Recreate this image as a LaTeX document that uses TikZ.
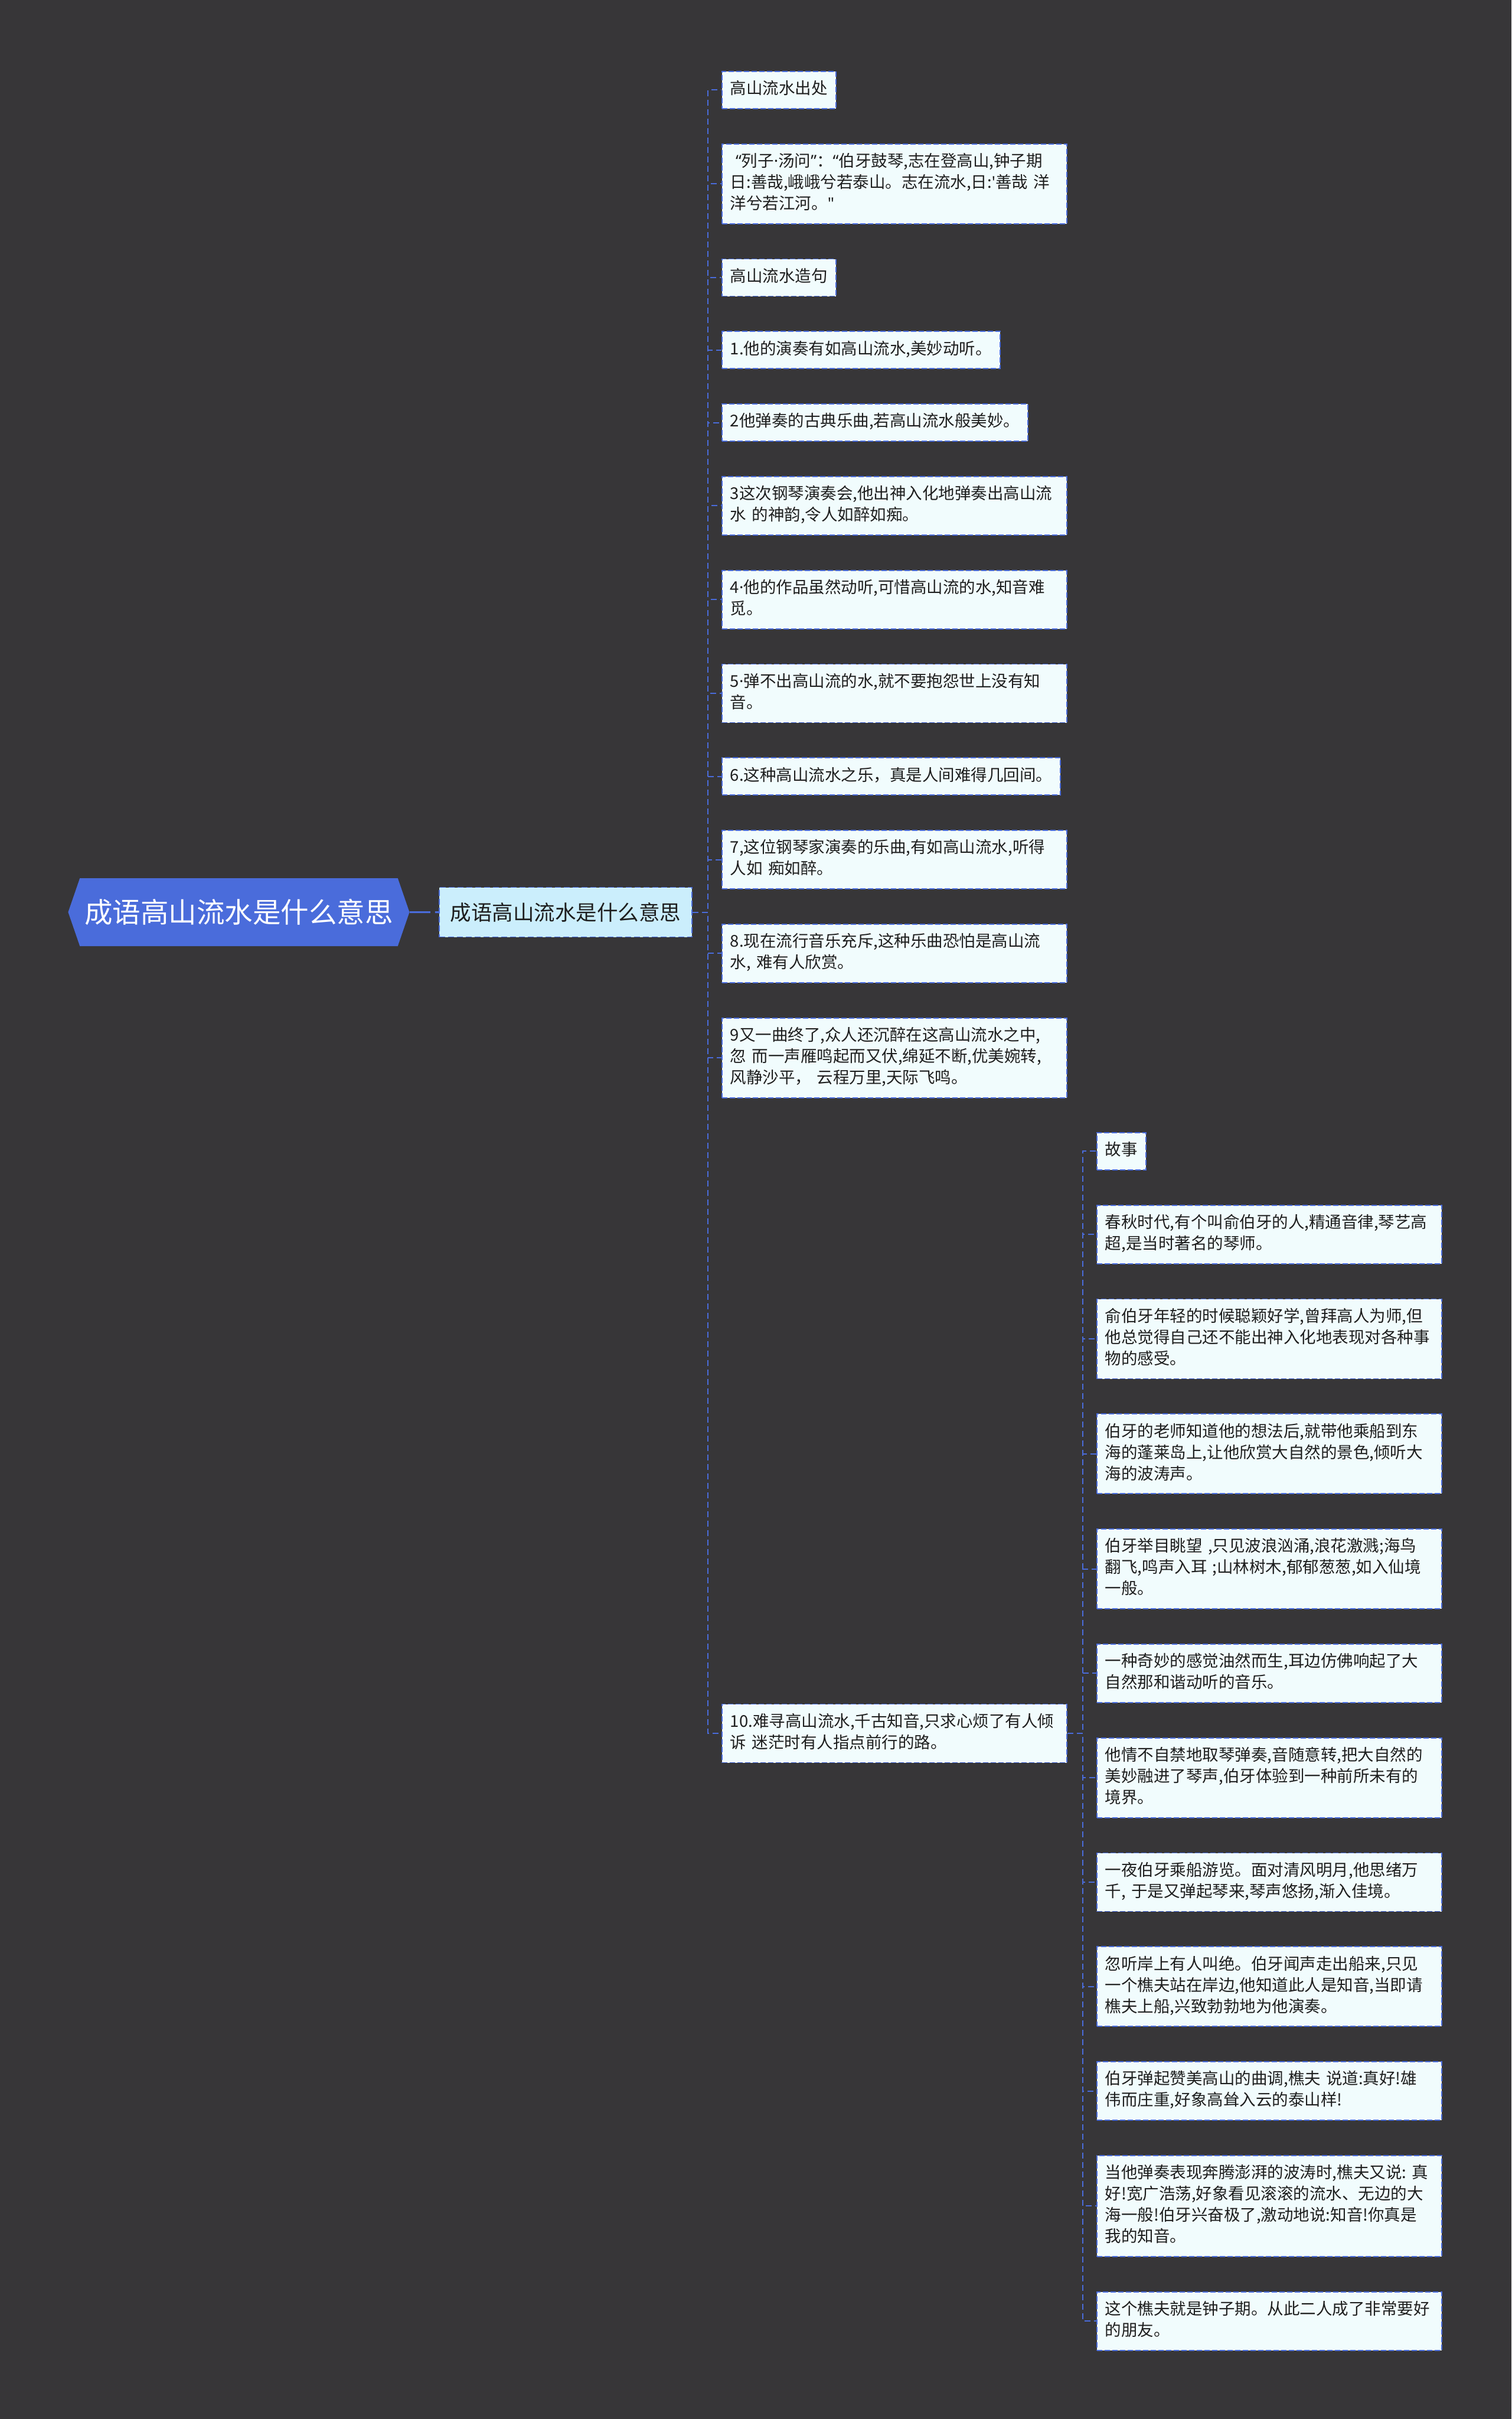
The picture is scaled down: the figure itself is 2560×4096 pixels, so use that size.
\documentclass[tikz,border=0pt]{standalone}
\usepackage{fontspec}
\setmainfont{Noto Sans CJK SC}
\newfontfamily\latfont{Noto Sans}
\usepackage{tikz}
\usetikzlibrary{positioning, shapes.symbols}
\setlength{\parindent}{0pt}
\definecolor{mapbg}{HTML}{373638}
\definecolor{mapblue}{HTML}{4A6CDB}
\definecolor{idealight}{HTML}{CBEEFC}
\definecolor{leaffill}{HTML}{F1FCFD}
\definecolor{leafink}{HTML}{1E1E1E}
\newcommand{\lat}[1]{{\latfont #1}}

\tikzset{
  leaf/.style={draw=mapblue, line width=1.8pt, dash pattern=on 9pt off 4pt, fill=leaffill, text=leafink,
    align=left, inner xsep=14pt, inner ysep=13.5pt, font=\fontsize{27.5}{36}\selectfont,
    execute at begin node=\strut, execute at end node=\strut},
  wide/.style={text width=556pt},
  link/.style={draw=mapblue, line width=2pt, dash pattern=on 10pt off 6pt},
}

\begin{document}
\begin{tikzpicture}[x=1pt, y=-1pt]
  \fill[mapbg] (0,0) rectangle (2560,4096);

  \node[signal, signal to=west and east, signal pointer angle=142, fill=mapblue, text=white,
    font=\fontsize{47.5}{50}\selectfont, minimum height=115pt, inner xsep=8pt] (root) at (404.5,1544.5) {成语高山流水是什么意思};
  \node[draw=mapblue, line width=1.8pt, dash pattern=on 10pt off 5pt, fill=idealight, text=leafink,
    font=\fontsize{35.5}{40}\selectfont, minimum height=84pt, inner xsep=19pt, right=49pt of root] (idea) {成语高山流水是什么意思};

  % meaning and sentences
  \node[leaf, anchor=north west] (c1) at (1222,120) {高山流水出处};
  \node[leaf, wide, below=58pt of c1.south west, anchor=north west] (c2) {\lat{\ “}列子\lat{·}汤问\lat{”}：\lat{“}伯牙鼓琴,志在登高山,钟子期\\日:善哉,峨峨兮若泰山。志在流水,日:\lat{'}善哉~洋\\洋兮若江河。\lat{"}};
  \node[leaf, below=58pt of c2.south west, anchor=north west] (c3) {高山流水造句};
  \node[leaf, below=58pt of c3.south west, anchor=north west] (c4) {1.他的演奏有如高山流水,美妙动听。};
  \node[leaf, below=58pt of c4.south west, anchor=north west] (c5) {2他弹奏的古典乐曲,若高山流水般美妙。};
  \node[leaf, wide, below=58pt of c5.south west, anchor=north west] (c6) {3这次钢琴演奏会,他出神入化地弹奏出高山流\\水 的神韵,令人如醉如痴。};
  \node[leaf, wide, below=58pt of c6.south west, anchor=north west] (c7) {4\lat{·}他的作品虽然动听,可惜高山流的水,知音难\\觅。};
  \node[leaf, wide, below=58pt of c7.south west, anchor=north west] (c8) {5\lat{·}弹不出高山流的水,就不要抱怨世上没有知\\音。};
  \node[leaf, below=58pt of c8.south west, anchor=north west] (c9) {6.这种高山流水之乐，真是人间难得几回间。};
  \node[leaf, wide, below=58pt of c9.south west, anchor=north west] (c10) {7,这位钢琴家演奏的乐曲,有如高山流水,听得\\人如 痴如醉。};
  \node[leaf, wide, below=58pt of c10.south west, anchor=north west] (c11) {8.现在流行音乐充斥,这种乐曲恐怕是高山流\\水, 难有人欣赏。};
  \node[leaf, wide, below=58pt of c11.south west, anchor=north west] (c12) {9又一曲终了,众人还沉醉在这高山流水之中,\\忽 而一声雁鸣起而又伏,绵延不断,优美婉转,\\风静沙平， 云程万里,天际飞鸣。};
  \node[leaf, wide, anchor=west] (c13) at (1222,2935) {10.难寻高山流水,千古知音,只求心烦了有人倾\\诉 迷茫时有人指点前行的路。};

  % the story
  \node[leaf, anchor=north west] (g0) at (1857,1917) {故事};
  \node[leaf, wide, below=58pt of g0.south west, anchor=north west] (g1) {春秋时代,有个叫俞伯牙的人,精通音律,琴艺高\\超,是当时著名的琴师。};
  \node[leaf, wide, below=58pt of g1.south west, anchor=north west] (g2) {俞伯牙年轻的时候聪颖好学,曾拜高人为师,但\\他总觉得自己还不能出神入化地表现对各种事\\物的感受。};
  \node[leaf, wide, below=58pt of g2.south west, anchor=north west] (g3) {伯牙的老师知道他的想法后,就带他乘船到东\\海的蓬莱岛上,让他欣赏大自然的景色,倾听大\\海的波涛声。};
  \node[leaf, wide, below=58pt of g3.south west, anchor=north west] (g4) {伯牙举目眺望 ,只见波浪汹涌,浪花激溅;海鸟\\翻飞,鸣声入耳 ;山林树木,郁郁葱葱,如入仙境\\一般。};
  \node[leaf, wide, below=58pt of g4.south west, anchor=north west] (g5) {一种奇妙的感觉油然而生,耳边仿佛响起了大\\自然那和谐动听的音乐。};
  \node[leaf, wide, below=58pt of g5.south west, anchor=north west] (g6) {他情不自禁地取琴弹奏,音随意转,把大自然的\\美妙融进了琴声,伯牙体验到一种前所未有的\\境界。};
  \node[leaf, wide, below=58pt of g6.south west, anchor=north west] (g7) {一夜伯牙乘船游览。面对清风明月,他思绪万\\千, 于是又弹起琴来,琴声悠扬,渐入佳境。};
  \node[leaf, wide, below=58pt of g7.south west, anchor=north west] (g8) {忽听岸上有人叫绝。伯牙闻声走出船来,只见\\一个樵夫站在岸边,他知道此人是知音,当即请\\樵夫上船,兴致勃勃地为他演奏。};
  \node[leaf, wide, below=58pt of g8.south west, anchor=north west] (g9) {伯牙弹起赞美高山的曲调,樵夫 说道:真好!雄\\伟而庄重,好象高耸入云的泰山样!};
  \node[leaf, wide, below=58pt of g9.south west, anchor=north west] (g10) {当他弹奏表现奔腾澎湃的波涛时,樵夫又说:~真\\好!宽广浩荡,好象看见滚滚的流水、无边的大\\海一般!伯牙兴奋极了,激动地说:知音!你真是\\我的知音。};
  \node[leaf, wide, below=58pt of g10.south west, anchor=north west] (g11) {这个樵夫就是钟子期。从此二人成了非常要好\\的朋友。};

  \draw[draw=mapblue, line width=3pt, dash pattern=on 35pt off 8pt] (root) -- (idea);
  \foreach \i in {1,...,13}
    \draw[link] (idea.east) -- ++(26,0) |- (c\i.west);
  \foreach \i in {0,...,11}
    \draw[link] (c13.east) -- ++(26,0) |- (g\i.west);
\end{tikzpicture}
\end{document}
